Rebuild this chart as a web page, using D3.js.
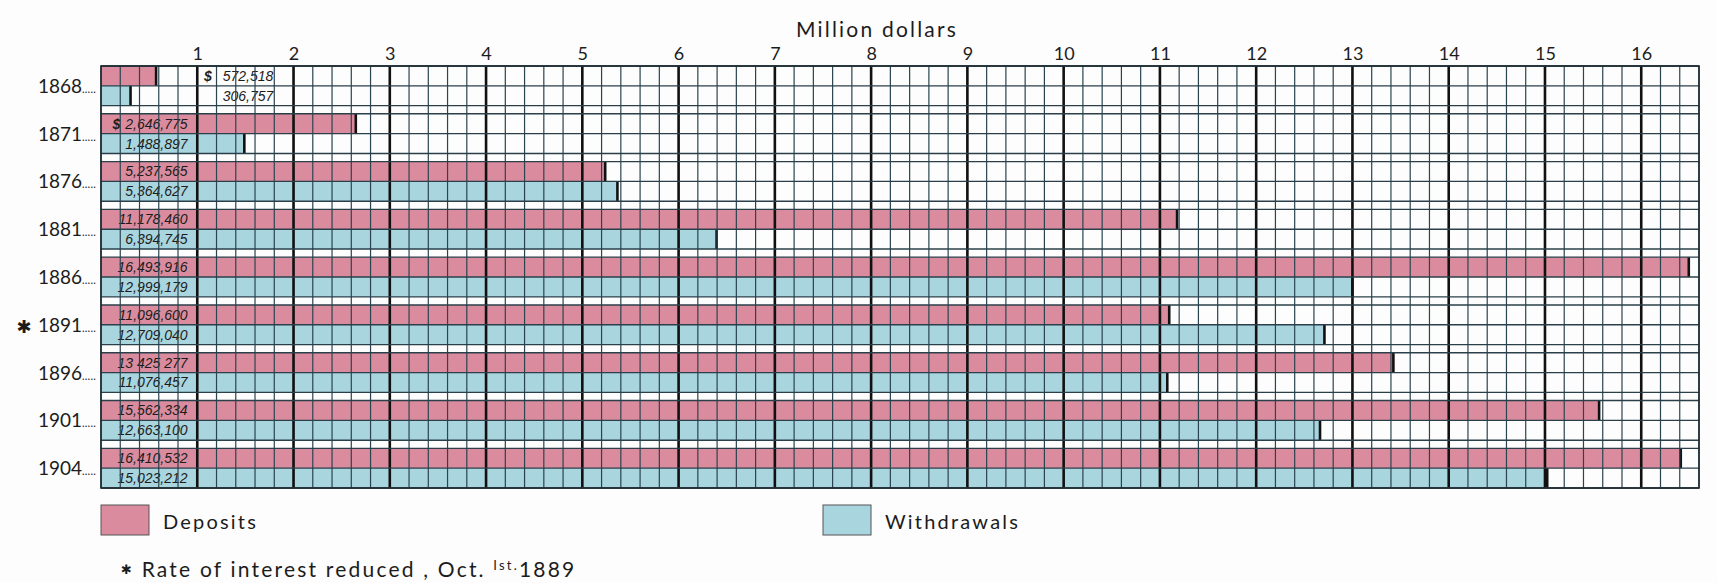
<!DOCTYPE html>
<meta charset="utf-8">
<script src="https://d3js.org/d3.v7.min.js"></script>
<style>
  body { margin: 0; background: #fcfdfc; }
  text { font-family: Lato, "Open Sans", sans-serif; fill: #1c1c1c; }
  .val { font-family: "Liberation Sans", Arial, sans-serif; font-style: italic; font-size: 14px; }
</style>
<div id="chart"></div>
<script>

// data (dollars)
var years = ["1868", "1871", "1876", "1881", "1886", "1891", "1896", "1901", "1904"];
var deposits = [572518, 2646775, 5237565, 11178460, 16493916, 11096600, 13425277, 15562334, 16410532];
var withdrawals = [306757, 1488897, 5364627, 6394745, 12999179, 12709040, 11076457, 12663100, 15023212];
var depositText = ["572,518", "2,646,775", "5,237,565", "11,178,460", "16,493,916", "11,096,600", "13 425 277", "15,562,334", "16,410,532"];
var withdrawalText = ["306,757", "1,488,897", "5,364,627", "6,394,745", "12,999,179", "12,709,040", "11,076,457", "12,663,100", "15,023,212"];
var tickLabels = [1, 2, 3, 4, 5, 6, 7, 8, 9, 10, 11, 12, 13, 14, 15, 16];
var series = ["Deposits", "Withdrawals"];

var W = 1717, H = 583;
var colors = {Deposits: "#da8c9e", Withdrawals: "#a9d5df"};

var svg = d3.select("#chart").append("svg")
  .attr("width", W).attr("height", H);

// scales
var x = d3.scaleLinear().domain([0, 16.6]).range([101, 1699]);
var y = d3.scaleBand().domain(years).range([66, 488]).paddingInner(0.17).paddingOuter(0);
var sub = d3.scaleBand().domain(series).range([0, y.bandwidth()]);

var rows = years.map(function(yr, i) {
  return {year: yr, i: i, Deposits: deposits[i] / 1e6, Withdrawals: withdrawals[i] / 1e6};
});

// bars
var g = svg.selectAll("g.row").data(rows).enter().append("g")
  .attr("class", "row")
  .attr("transform", function(d) { return "translate(0," + y(d.year) + ")"; });

series.forEach(function(s) {
  g.append("rect")
    .attr("x", x(0))
    .attr("y", sub(s))
    .attr("width", function(d) { return x(d[s]) - x(0); })
    .attr("height", sub.bandwidth())
    .attr("fill", colors[s]);
});

// vertical grid, minor every 0.2, major every 1
var minor = d3.range(0, 83.5).map(function(k) { return k * 0.2; });
svg.append("g").selectAll("line").data(minor).enter().append("line")
  .attr("x1", function(d) { return x(d); }).attr("x2", function(d) { return x(d); })
  .attr("y1", y.range()[0]).attr("y2", y.range()[1])
  .attr("stroke", "#2a4450").attr("stroke-width", 1.2);

svg.append("g").selectAll("line").data(tickLabels).enter().append("line")
  .attr("x1", function(d) { return x(d); }).attr("x2", function(d) { return x(d); })
  .attr("y1", y.range()[0]).attr("y2", y.range()[1])
  .attr("stroke", "#111").attr("stroke-width", 2.6);

// horizontal lines at bar edges
var hl = [];
years.forEach(function(yr) {
  hl.push(y(yr), y(yr) + sub.bandwidth(), y(yr) + y.bandwidth());
});
svg.append("g").selectAll("line").data(hl).enter().append("line")
  .attr("x1", x(0)).attr("x2", x(16.6))
  .attr("y1", function(d) { return d; }).attr("y2", function(d) { return d; })
  .attr("stroke", "#2a3f4a").attr("stroke-width", 1.4);

// outer frame
svg.append("rect")
  .attr("x", x(0)).attr("y", y.range()[0])
  .attr("width", x(16.6) - x(0)).attr("height", y.range()[1] - y.range()[0])
  .attr("fill", "none").attr("stroke", "#1c2a30").attr("stroke-width", 1.6);

// bar end marks
series.forEach(function(s) {
  g.append("line")
    .attr("x1", function(d) { return x(d[s]); }).attr("x2", function(d) { return x(d[s]); })
    .attr("y1", sub(s)).attr("y2", sub(s) + sub.bandwidth())
    .attr("stroke", "#111").attr("stroke-width", 2.6);
});

// value labels
function labelX(d) { return d.i === 0 ? x(1.79) : x(0.9); }
g.append("text").attr("class", "val")
  .attr("x", labelX).attr("y", sub("Deposits") + sub.bandwidth() / 2 + 5)
  .attr("text-anchor", "end")
  .text(function(d) { return depositText[d.i]; });
g.append("text").attr("class", "val")
  .attr("x", labelX).attr("y", sub("Withdrawals") + sub.bandwidth() / 2 + 5)
  .attr("text-anchor", "end")
  .text(function(d) { return withdrawalText[d.i]; });
g.filter(function(d) { return d.i < 2; }).append("text").attr("class", "val")
  .attr("x", function(d) { return d.i === 0 ? x(1.07) : x(0.12); })
  .attr("y", sub("Deposits") + sub.bandwidth() / 2 + 5)
  .style("font-weight", "bold")
  .text("$");

// year labels with dotted leaders
g.append("text")
  .attr("x", 82).attr("y", y.bandwidth() / 2 + 7)
  .attr("text-anchor", "end")
  .style("font-size", "19px")
  .text(function(d) { return d.year; });
g.append("text")
  .attr("x", 82).attr("y", y.bandwidth() / 2 + 7)
  .style("font-size", "11px").style("letter-spacing", "0.2px")
  .text(".....");
g.filter(function(d) { return d.year === "1891"; }).append("text")
  .attr("x", 24).attr("y", y.bandwidth() / 2 + 8)
  .attr("text-anchor", "middle")
  .style("font-family", "DejaVu Sans").style("font-size", "18px")
  .text("\u2731");

// top axis labels
var axis = svg.append("g")
  .attr("transform", "translate(0,60)")
  .call(d3.axisTop(x).tickValues(tickLabels).tickSize(0).tickPadding(0).tickFormat(d3.format("d")));
axis.select(".domain").remove();
axis.selectAll("text")
  .attr("y", 0).attr("dy", 0)
  .style("font-family", "Lato, sans-serif").style("font-size", "18px").attr("fill", "#1c1c1c");

svg.append("text")
  .attr("x", 877).attr("y", 37)
  .attr("text-anchor", "middle")
  .style("font-size", "21px").style("letter-spacing", "2.2px")
  .text("Million dollars");

// legend
var legend = svg.append("g").selectAll("g").data(series).enter().append("g")
  .attr("transform", function(d, i) { return "translate(" + (i === 0 ? 101 : 823) + ",505)"; });
legend.append("rect")
  .attr("width", 48).attr("height", 30)
  .attr("fill", function(d) { return colors[d]; })
  .attr("stroke", "#555").attr("stroke-width", 1);
legend.append("text")
  .attr("x", 62).attr("y", 24)
  .style("font-size", "20px").style("letter-spacing", "2.2px")
  .text(function(d) { return d; });

// footnote
var note = svg.append("text")
  .attr("x", 121).attr("y", 577)
  .style("font-size", "21px").style("letter-spacing", "2.2px");
note.append("tspan").style("font-family", "DejaVu Sans").style("font-size", "13px").attr("dy", -3).text("\u2731");
note.append("tspan").attr("dy", 3).text(" Rate of interest reduced , Oct. ");
note.append("tspan").style("font-size", "13px").attr("dy", -7).text("Ist.");
note.append("tspan").attr("dy", 7).text("1889");

</script>
